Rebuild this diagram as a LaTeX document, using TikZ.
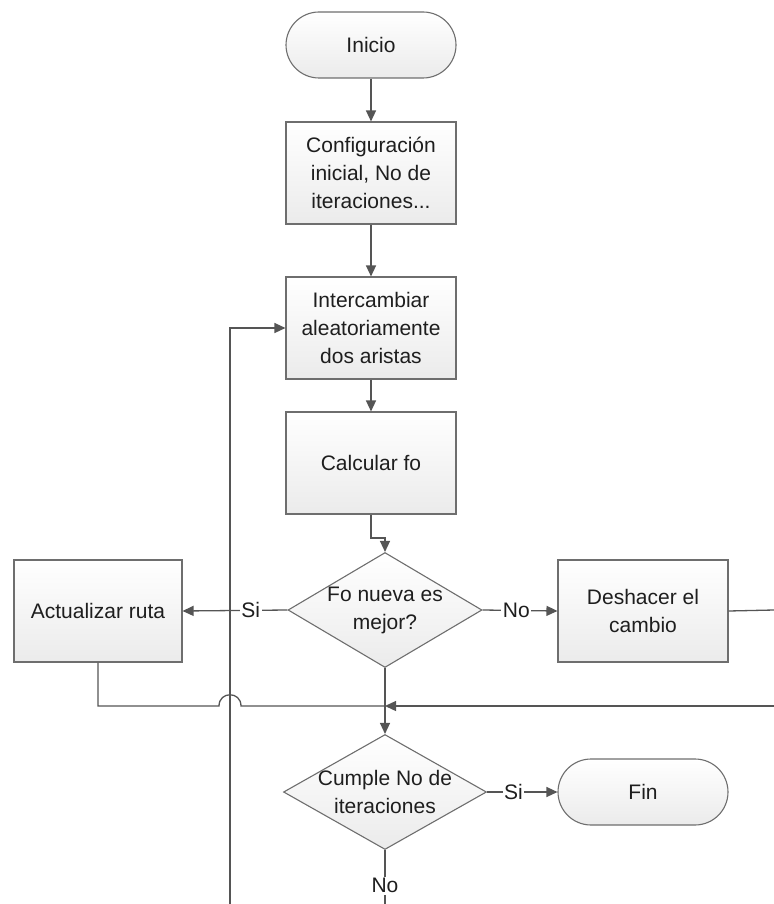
\documentclass[tikz,border=0pt]{standalone}
\usepackage{fontspec}
\setmainfont{Liberation Sans}
\usetikzlibrary{shapes.geometric,arrows.meta,calc}
\definecolor{linec}{HTML}{555555}
\definecolor{borderc}{HTML}{6E6E6E}
\definecolor{fillbot}{HTML}{EBEBEB}
\definecolor{textc}{HTML}{1E1E1E}
\begin{document}
\begin{tikzpicture}[x=1pt,y=-1pt,
  every node/.style={font=\fontsize{21}{28}\selectfont, text=textc},
  box/.style={draw=borderc, line width=1.1pt, top color=white, bottom color=fillbot,
    minimum width=170pt, minimum height=102pt, inner sep=0pt, align=center},
  term/.style={box, minimum height=66pt, rounded corners=33pt},
  decision/.style={diamond, draw=borderc, line width=1.1pt, top color=white, bottom color=fillbot,
    minimum width=194pt, minimum height=115pt, inner sep=0pt},
  dtext/.style={align=center, inner sep=0pt},
  conn/.style={draw=linec, line width=1.3pt},
  arr/.style={conn, -{Triangle[length=11pt,width=10pt]}},
  lab/.style={fill=white, inner sep=1.5pt}]
\useasboundingbox (0,0) rectangle (773,904);

\node[term] (start) at (371,45) {Inicio};
\node[box] (config) at (371,173) {Configuración\\inicial, No de\\iteraciones...};
\node[box] (inter) at (371,328) {Intercambiar\\aleatoriamente\\dos aristas};
\node[box] (calc) at (371,463) {Calcular fo};
\node[decision] (d1) at (385,610) {};
\node[dtext] (d1t) at (d1) {Fo nueva es\\mejor?};
\node[box, minimum width=168pt] (upd) at (98,611) {Actualizar ruta};
\node[box] (undo) at (643,611) {Deshacer el\\cambio};
\node[decision, minimum width=203pt] (d2) at (385,792) {};
\node[dtext] (d2t) at (d2) {Cumple No de\\iteraciones};
\node[term] (fin) at (643,792) {Fin};

\coordinate (b1) at (371,538);
\coordinate (j) at (385,706);
\coordinate (r1) at (774,610);
\coordinate (r2) at (774,706);
\coordinate (bot) at (385,905);
\coordinate (botl) at (230,905);
\coordinate (jl) at (219,706);
\coordinate (jr) at (241,706);

\draw[arr] (start) -- (config);
\draw[arr] (config) -- (inter);
\draw[arr] (inter) -- (calc);
\draw[arr] (calc.south) -- (b1) -| (d1.north);
\draw[arr] (d1.west) -- node[lab, pos=0.35] (si1) {Si} (upd.east);
\draw[arr] (d1.east) -- node[lab, pos=0.45] (no1) {No} (undo.west);
\draw[conn] (undo.east) -- (r1);
\draw[conn] (upd.south) |- (jl) .. controls ($(jl)+(0,-15)$) and ($(jr)+(0,-15)$) .. (jr) -- (j);
\draw[arr] (r2) -- (j);
\draw[conn] (d1.south) -- (j);
\draw[arr] (j) -- (d2.north);
\draw[arr] (d2.east) -- node[lab, pos=0.375] (si2) {Si} (fin.west);
\draw[conn] (d2.south) -- node[lab, pos=0.65] (no2) {No} (bot);
\draw[arr] (botl) |- (inter.west);
\end{tikzpicture}
\end{document}
